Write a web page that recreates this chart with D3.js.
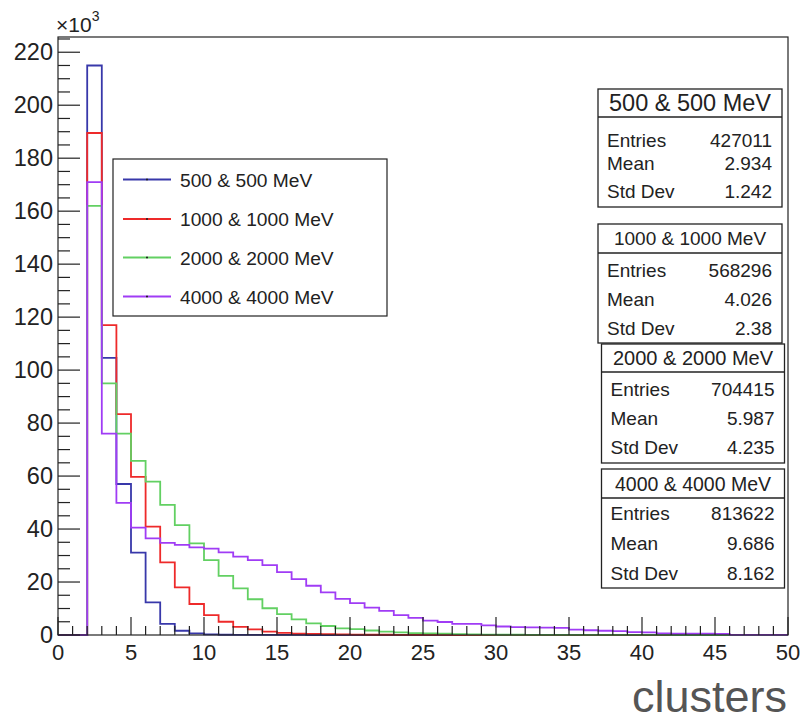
<!doctype html>
<html>
<head>
<meta charset="utf-8">
<script src="https://cdnjs.cloudflare.com/ajax/libs/d3/7.8.5/d3.min.js"></script>
<style>
  body { margin: 0; background: #fff; }
  svg { display: block; font-family: "Liberation Sans", Arial, Helvetica, sans-serif; }
</style>
</head>
<body>
<svg id="chart" width="806" height="723"></svg>
<script>
// bin low edges 0..49, width 1 ; counts in thousands
const binEdges = d3.range(0, 51);
const seriesNames = ["500 & 500 MeV", "1000 & 1000 MeV", "2000 & 2000 MeV", "4000 & 4000 MeV"];
const colors = ["#3838aa", "#ee2a2a", "#62d062", "#a03cf5"];

const counts500 = [0, 0, 215, 104.6, 57, 31.1, 12.3, 4.2, 1.6, 0.6, 0.2, 0.1, 0.06, 0.05, 0.04, 0.03, 0.02,
  0, 0, 0, 0, 0, 0, 0, 0, 0, 0, 0, 0, 0, 0, 0, 0, 0, 0, 0, 0, 0, 0, 0, 0, 0, 0, 0, 0, 0, 0, 0, 0, 0];
const counts1000 = [0, 0, 189.5, 117, 83.4, 59.7, 40.9, 27.4, 18, 11.7, 7.5, 5, 3.1, 2.1, 1.3, 0.8, 0.5, 0.4,
  0.3, 0.2, 0.15, 0.1, 0.1, 0.08, 0.06, 0.05, 0.04, 0, 0, 0, 0, 0, 0, 0, 0, 0, 0, 0, 0, 0, 0, 0, 0, 0, 0, 0, 0, 0, 0, 0];
const counts2000 = [0, 0, 162, 95, 76, 65.7, 57.9, 49.1, 41.5, 34.6, 28.3, 22.3, 17.6, 13.5, 10.1, 7.9, 5.9, 4.4,
  3.4, 2.5, 2.2, 1.7, 1.3, 1.0, 0.7, 0.6, 0.5, 0.3, 0.2, 0.15, 0.1, 0.1, 0.08, 0.06, 0.05, 0.04, 0.03, 0.03, 0.02,
  0.02, 0.01, 0.01, 0, 0, 0, 0, 0, 0, 0, 0];
const counts4000 = [0, 0, 171, 76, 49.9, 40.5, 36.5, 34.8, 34, 33.1, 32.6, 31.2, 29.6, 28.3, 26.4, 23.7, 21.1, 18.6,
  16.1, 13.6, 12, 10.3, 9.1, 7.5, 6.5, 5.4, 4.9, 4.2, 4.2, 3.6, 3.2, 3.0, 2.9, 2.8, 2.7, 2.0, 1.8, 1.6, 1.5,
  1.1, 1.0, 0.6, 0.5, 0.5, 0.5, 0.4, 0.05, 0.05, 0.05, 0.05];
const allCounts = [counts500, counts1000, counts2000, counts4000];

const statEntries = ["427011", "568296", "704415", "813622"];
const statMean = ["2.934", "4.026", "5.987", "9.686"];
const statStd = ["1.242", "2.38", "4.235", "8.162"];

const xTicksMajor = d3.range(0, 51, 5);
const xTicksMinor = d3.range(0, 51, 1);
const yTicksMajor = d3.range(0, 221, 20);
const yTicksMinor = d3.range(0, 226, 5);

const svg = d3.select("#chart");
const x = d3.scaleLinear().domain([0, 50]).range([58, 788]);
const y = d3.scaleLinear().domain([0, 215 * 1.05]).range([635, 37]);
const ink = "#222";

// histograms
const step = d3.line().x(d => x(d[0])).y(d => y(d[1])).curve(d3.curveStepAfter);
allCounts.forEach((c, i) => {
  const pts = binEdges.map((e, k) => [e, k < c.length ? c[k] : c[c.length - 1]]);
  svg.append("path")
    .attr("d", step(pts))
    .attr("fill", "none")
    .attr("stroke", colors[i])
    .attr("stroke-width", 1.8);
});

// frame
svg.append("rect")
  .attr("x", x(0)).attr("y", y.range()[1])
  .attr("width", x(50) - x(0)).attr("height", y(0) - y.range()[1])
  .attr("fill", "none").attr("stroke", ink).attr("stroke-width", 1.2);

// x ticks
svg.append("g").selectAll("line").data(xTicksMinor).join("line")
  .attr("x1", d => x(d)).attr("x2", d => x(d))
  .attr("y1", y(0)).attr("y2", d => y(0) - (d % 5 === 0 ? 18 : 9))
  .attr("stroke", ink).attr("stroke-width", 1.2);
svg.append("g").selectAll("text").data(xTicksMajor).join("text")
  .attr("x", d => x(d)).attr("y", 660)
  .attr("text-anchor", "middle")
  .attr("font-size", 22).attr("fill", ink)
  .text(d => d);

// y ticks
svg.append("g").selectAll("line").data(yTicksMinor).join("line")
  .attr("x1", x(0)).attr("x2", d => x(0) + (d % 20 === 0 ? 22 : 12))
  .attr("y1", d => y(d)).attr("y2", d => y(d))
  .attr("stroke", ink).attr("stroke-width", 1.2);
svg.append("g").selectAll("text").data(yTicksMajor).join("text")
  .attr("x", 53).attr("y", d => y(d) + 8)
  .attr("text-anchor", "end")
  .attr("font-size", 23.5).attr("fill", ink)
  .text(d => d);

// exponent
const expo = svg.append("text").attr("x", 56).attr("y", 32).attr("font-size", 21).attr("fill", ink);
expo.append("tspan").text("\u00d710");
expo.append("tspan").attr("dy", -11).attr("font-size", 14).text("3");

// axis title
svg.append("text")
  .attr("x", 787).attr("y", 712)
  .attr("text-anchor", "end")
  .attr("font-size", 45).attr("fill", "#555")
  .text("clusters");

// legend
const leg = svg.append("g");
leg.append("rect").attr("x", 113).attr("y", 159).attr("width", 274).attr("height", 157)
  .attr("fill", "#fff").attr("stroke", ink).attr("stroke-width", 1.2);
const legRows = [179.5, 219, 257.5, 296.5];
seriesNames.forEach((n, i) => {
  leg.append("line").attr("x1", 123).attr("x2", 171).attr("y1", legRows[i]).attr("y2", legRows[i])
    .attr("stroke", colors[i]).attr("stroke-width", 1.8);
  leg.append("rect").attr("x", 146).attr("y", legRows[i] - 0.8).attr("width", 2).attr("height", 1.6).attr("fill", "#222");
  leg.append("text").attr("x", 180).attr("y", legRows[i] + 7)
    .attr("font-size", 19.2).attr("fill", ink).text(n);
});

// stats boxes
const boxes = [
  { x0: 598, x1: 782, top: 89, div: 117, bottom: 207, tsize: 23.5, rows: [140, 163, 191.5] },
  { x0: 598, x1: 782, top: 224, div: 253, bottom: 343, tsize: 19, rows: [270, 299, 328] },
  { x0: 601.5, x1: 784.5, top: 344, div: 372, bottom: 463, tsize: 20, rows: [389, 418, 447] },
  { x0: 601.5, x1: 784.5, top: 469, div: 498, bottom: 588, tsize: 19.5, rows: [513.5, 543.5, 573.5] }
];
boxes.forEach((b, i) => {
  const g = svg.append("g");
  g.append("rect").attr("x", b.x0).attr("y", b.top).attr("width", b.x1 - b.x0).attr("height", b.bottom - b.top)
    .attr("fill", "#fff").attr("stroke", ink).attr("stroke-width", 1.3);
  g.append("line").attr("x1", b.x0).attr("x2", b.x1).attr("y1", b.div).attr("y2", b.div)
    .attr("stroke", ink).attr("stroke-width", 1.3);
  g.append("text").attr("x", (b.x0 + b.x1) / 2).attr("y", (b.top + b.div) / 2 + b.tsize * 0.36)
    .attr("text-anchor", "middle").attr("font-size", b.tsize).attr("fill", ink).text(seriesNames[i]);
  const labels = ["Entries", "Mean", "Std Dev"];
  const vals = [statEntries[i], statMean[i], statStd[i]];
  labels.forEach((l, k) => {
    g.append("text").attr("x", b.x0 + 9).attr("y", b.rows[k] + 6.5)
      .attr("font-size", 19).attr("fill", ink).text(l);
    g.append("text").attr("x", b.x1 - 10).attr("y", b.rows[k] + 6.5)
      .attr("text-anchor", "end").attr("font-size", 19).attr("fill", ink).text(vals[k]);
  });
});
</script>
</body>
</html>
